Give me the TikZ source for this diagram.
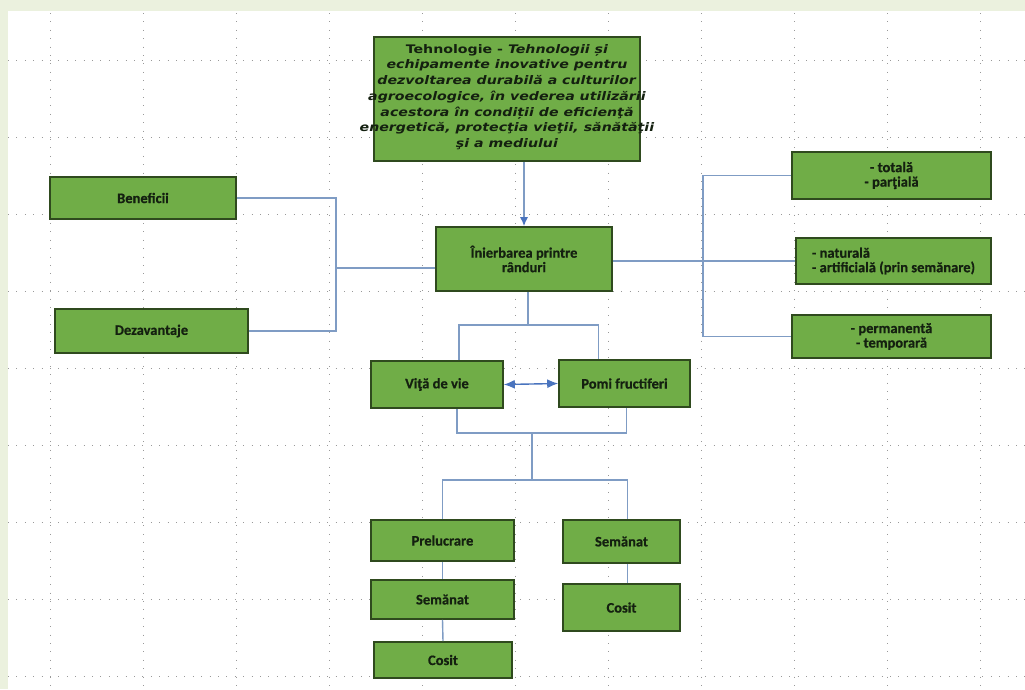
\documentclass[tikz,border=0pt]{standalone}
\usepackage{fontspec}
\setmainfont{Carlito}[BoldFeatures={FakeBold=0.6}]
\newfontfamily\tehnofont{DejaVu Sans}[ItalicFont={DejaVu Sans Oblique},BoldFont={DejaVu Sans Bold},BoldItalicFont={DejaVu Sans Bold Oblique},FakeStretch=1.2]
\usetikzlibrary{arrows.meta}
\definecolor{boxgreen}{HTML}{70AD47}
\definecolor{boxline}{HTML}{2F4A1E}
\definecolor{linkblue}{HTML}{7F9CC4}
\definecolor{arrowblue}{HTML}{4A74BE}
\definecolor{pagegreen}{HTML}{EBF1DE}
\definecolor{textdark}{HTML}{142010}

\begin{document}
\begin{tikzpicture}[x=1pt,y=-1pt]
    \useasboundingbox (0,0) rectangle (1025,689);
    \fill[pagegreen] (0,0) rectangle (1025,689);
    \fill[white] (8,11) rectangle (1025,689);

    % dotted grid
    \begin{scope}[gray!80, line width=0.9pt, dash pattern=on 0.9pt off 7.5pt]
        \foreach \gx in {50,143,...,980}
            \draw (\gx,13) -- (\gx,689);
        \foreach \gy in {60,137,...,677}
            \draw (8,\gy) -- (1025,\gy);
    \end{scope}

    \begin{scope}[
            every node/.style={draw=boxline, fill=boxgreen, line width=1.6pt, inner sep=0pt,
                align=center, text=textdark, font=\bfseries\fontsize{14.5}{14.5}\selectfont},
        ]

        \node[minimum width=266pt, minimum height=124pt] (tehno) at (507,99) {};
        \node[draw=none, fill=none, font=\tehnofont\bfseries\fontsize{11.8}{15.7}\selectfont]
            (tehnotext) at ([yshift=2pt]tehno.center)
            {Tehnologie - \textit{Tehnologii și}\\
             \textit{echipamente inovative pentru}\\
             \textit{dezvoltarea durabilă a culturilor}\\
             \textit{agroecologice, în vederea utilizării}\\
             \textit{acestora în condiții de eficienţă}\\
             \textit{energetică, protecţia vieţii, sănătăţii}\\
             \textit{şi a mediului}};

        \node[minimum width=186pt, minimum height=42pt] (benef) at (143,198) {Beneficii};
        \node[minimum width=193pt, minimum height=44pt] (dezav) at (151.5,331) {Dezavantaje};
        \node[minimum width=176pt, minimum height=64pt] (inier) at (524,259) {Înierbarea printre\\rânduri};

        \node[minimum width=199pt, minimum height=47pt] (opt1) at (891.5,175.5) {- totală\\- parţială};
        \node[minimum width=195pt, minimum height=46pt, align=left] (opt2) at (893.5,261)
            {- naturală\\- artificială (prin semănare)};
        \node[minimum width=199pt, minimum height=43pt] (opt3) at (891.5,336.5) {- permanentă\\- temporară};

        \node[minimum width=132pt, minimum height=47pt] (vita) at (437,384.5) {Viţă de vie};
        \node[minimum width=131pt, minimum height=47pt] (pomi) at (624.5,383.5) {Pomi fructiferi};

        \node[minimum width=143pt, minimum height=41pt] (prel) at (442.5,540.5) {Prelucrare};
        \node[minimum width=143pt, minimum height=39pt] (sem1) at (442.5,599.5) {Semănat};
        \node[minimum width=138pt, minimum height=36pt] (cos1) at (443,660) {Cosit};
        \node[minimum width=117pt, minimum height=43pt] (sem2) at (621.5,541.5) {Semănat};
        \node[minimum width=117pt, minimum height=47pt] (cos2) at (621.5,607.5) {Cosit};
    \end{scope}

    \coordinate (lbus) at (336,268);
    \coordinate (rbus) at (703,262);
    \coordinate (j1) at (528,325);
    \coordinate (j2) at (532,433);
    \coordinate (j3) at (532,480);

    \begin{scope}[linkblue, line width=1.4pt]
        \draw (benef.east) -| (lbus) |- (dezav.east);
        \draw (lbus) -- (lbus -| inier.west);

        \draw (inier.east |- opt2.west) -- (opt2.west);
        \draw (opt1.west) -| (rbus) |- (opt3.west);

        \draw (inier.south -| j1) -- (j1);
        \draw ([xshift=22pt]vita.north) |- (j1) -| ([xshift=-26pt]pomi.north);

        \draw ([xshift=20pt]vita.south) |- (j2) -| ([xshift=2pt]pomi.south);
        \draw (j2) -- (j3);
        \draw (prel.north) |- (j3) -| ([xshift=6pt]sem2.north);

        \draw (prel.south) -- (sem1.north);
        \draw (sem1.south) -- (cos1.north);
        \draw ([xshift=6pt]sem2.south) -- ([xshift=6pt]cos2.north);
    \end{scope}

    \draw[linkblue, line width=1.4pt, -{Latex[length=9pt,width=8pt,color=arrowblue]}]
        (tehno.south -| inier.north) -- (inier.north);
    \draw[arrowblue, line width=1.4pt, {Latex[length=11pt,width=9pt]}-{Latex[length=11pt,width=9pt]}]
        (vita.east) -- (pomi.west);
\end{tikzpicture}
\end{document}
